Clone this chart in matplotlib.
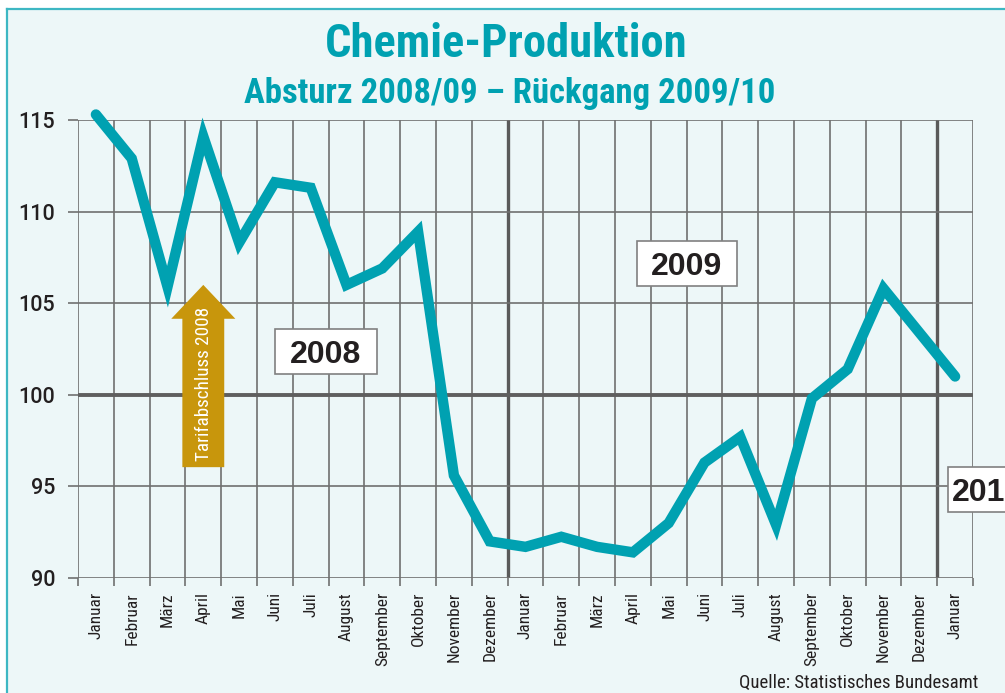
import matplotlib
matplotlib.use("Agg")
import matplotlib.pyplot as plt
from matplotlib import font_manager
from matplotlib.patches import Rectangle, FancyArrow

# Index values, Jan 2008 .. Jan 2010
months = ["Januar", "Februar", "März", "April", "Mai", "Juni", "Juli", "August",
          "September", "Oktober", "November", "Dezember",
          "Januar", "Februar", "März", "April", "Mai", "Juni", "Juli", "August",
          "September", "Oktober", "November", "Dezember", "Januar"]
values = [115.3, 112.9, 105.9, 114.1, 108.3, 111.6, 111.3, 106.0, 106.9, 108.9, 95.6, 92.0,
          91.7, 92.25, 91.7, 91.4, 93.0, 96.3, 97.7, 92.9, 99.8, 101.4, 105.8, 103.4, 101.0]
y_ticks = [90, 95, 100, 105, 110, 115]
year_labels = ["2008", "2009", "2010"]

TEAL = "#00a1b1"
GOLD = "#c8960c"
GRID = "#707070"
BG = "#edf7f8"

names = {f.name for f in font_manager.fontManager.ttflist}


def pick(*cands):
    for c in cands:
        if c in names:
            return c
    return "DejaVu Sans"


NARROW = pick("Roboto Condensed", "Fira Sans Condensed", "Liberation Sans Narrow", "Liberation Sans")
SANS = pick("Liberation Sans", "Roboto")
NUMS = pick("Roboto", "Liberation Sans")

W, H = 1005, 693
fig = plt.figure(figsize=(W / 100, H / 100), dpi=100, facecolor="white")


def fx(px):
    return px / W


def fy(py):
    return 1 - py / H


# panel background with teal border left/top
fig.add_artist(Rectangle((fx(7), 0), 1.1, fy(8.5), transform=fig.transFigure,
                         facecolor=BG, edgecolor="none", zorder=-5))
fig.add_artist(plt.Line2D([fx(7), fx(7)], [0, fy(8.5)], color="#3db7c3", lw=1.6, zorder=-4))
fig.add_artist(plt.Line2D([fx(7), 1], [fy(8.5), fy(8.5)], color="#3db7c3", lw=1.6, zorder=-4))

fig.text(fx(506), fy(44), "Chemie-Produktion", ha="center", va="center",
         fontsize=33.5, fontweight="bold", color=TEAL, family=NARROW)
fig.text(fx(510), fy(93), "Absturz 2008/09 – Rückgang 2009/10", ha="center", va="center",
         fontsize=25, fontweight="bold", color=TEAL, family=NARROW)

ax = fig.add_axes([fx(78), fy(578), fx(973) - fx(78), fy(120) - fy(578)])
ax.set_facecolor("none")
n = len(values)
x = list(range(n))
ax.set_xlim(-0.5, n - 0.5)
ax.set_ylim(90, 115)
for s in ax.spines.values():
    s.set_visible(False)

# grid: cell boundaries and value lines
for i in range(n + 1):
    b = i - 0.5
    if i in (12, 24):
        ax.axvline(b, color="#5a5a5a", lw=2.4, zorder=1)
    else:
        ax.axvline(b, color=GRID, lw=1.2, zorder=1)
for v in y_ticks:
    ax.axhline(v, color="#5f5f5f" if v == 100 else GRID, lw=2.8 if v == 100 else 1.2, zorder=1)

ax.set_yticks(y_ticks)
ax.set_yticklabels([str(v) for v in y_ticks])
ax.tick_params(axis="y", length=7.5, width=1.2, color=GRID, pad=9,
               labelsize=15.5, labelcolor="#231f20")
for lab in ax.get_yticklabels():
    lab.set_family(NUMS)
    lab.set_fontweight(500)

ax.set_xticks(x)
ax.set_xticklabels(months, rotation=90, family=NARROW, fontsize=12.5, color="#231f20")
ax.set_xticks([i - 0.5 for i in range(n + 1)], minor=True)
ax.tick_params(axis="x", which="major", length=0, pad=10)
ax.tick_params(axis="x", which="minor", length=6, width=1.2, color=GRID)

ax.plot(x, values, color=TEAL, lw=7.5, solid_joinstyle="miter", solid_capstyle="round",
        zorder=5, clip_on=False)

# Tarifabschluss arrow under April 2008
ax.add_patch(FancyArrow(3, 96.05, 0, 9.95, width=1.17, head_width=1.79, head_length=1.85,
                        length_includes_head=True, facecolor=GOLD, edgecolor="none", zorder=4))
ax.text(3.03, 100.6, "Tarifabschluss 2008", rotation=90, ha="center", va="center",
        color="white", fontsize=13.8, family=NARROW, zorder=6)

# year boxes (pixel layout)
boxes = [(275, 329, 102, 45), (637, 241, 100, 45), (948, 467, 100, 45)]
for (bx, by, bw, bh), lab in zip(boxes, year_labels):
    fig.add_artist(Rectangle((fx(bx), fy(by + bh)), bw / W, bh / H, transform=fig.transFigure,
                             facecolor="white", edgecolor="#808080", lw=1.2, zorder=7))
    if lab == "2010":
        fig.text(fx(952), fy(by + bh / 2), lab, ha="left", va="center_baseline", fontsize=23,
                 fontweight="bold", color="#231f20", family=SANS, zorder=8)
    else:
        fig.text(fx(bx + bw / 2), fy(by + bh / 2), lab, ha="center", va="center_baseline",
                 fontsize=23, fontweight="bold", color="#231f20", family=SANS, zorder=8)

fig.text(fx(978), fy(683), "Quelle: Statistisches Bundesamt", ha="right", va="center",
         fontsize=13.5, color="#231f20", family=NARROW)

fig.savefig("out.png", dpi=100, facecolor="white")
